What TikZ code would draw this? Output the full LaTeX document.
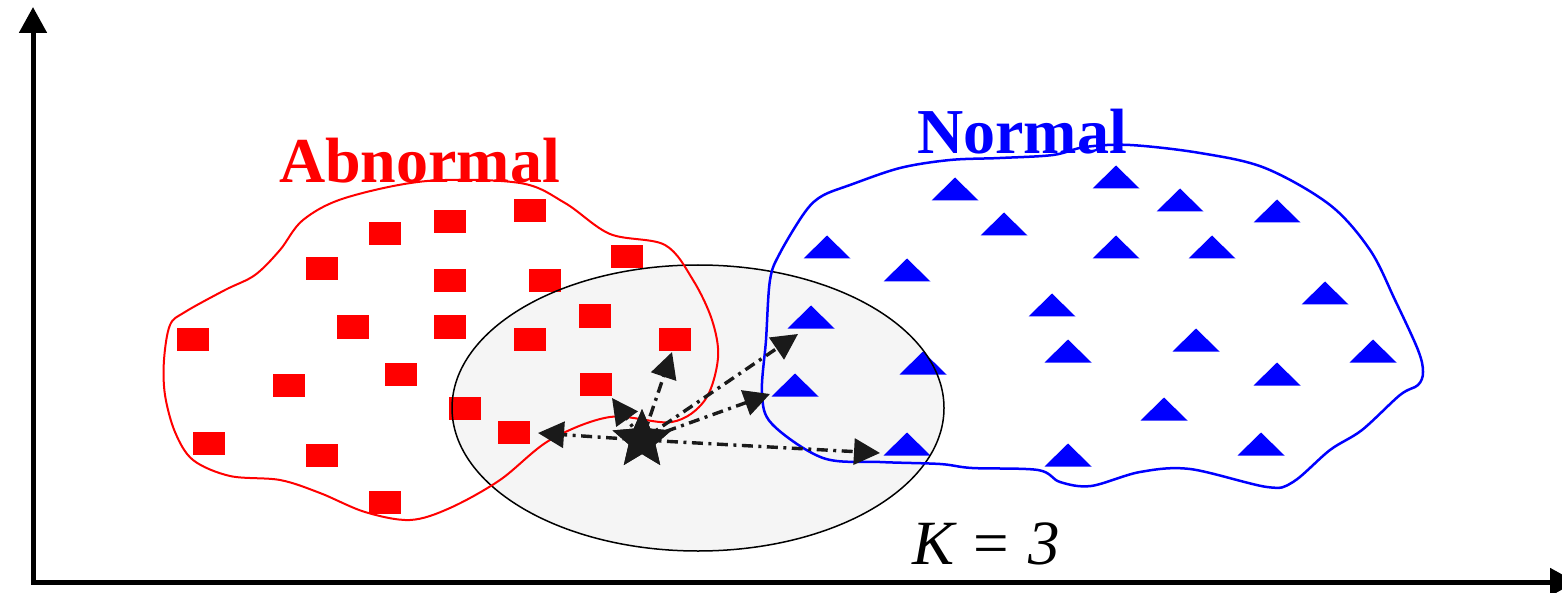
\documentclass[tikz,border=0pt]{standalone}
\usepackage{fontspec}
\setmainfont{Liberation Serif}
\usetikzlibrary{arrows.meta,shapes.geometric}
\definecolor{ellfill}{RGB}{245,245,245}
\definecolor{darkk}{RGB}{26,26,26}
\begin{document}
\begin{tikzpicture}[x=1pt,y=-1pt,
  axisline/.style={line width=5pt, black, {Triangle[length=26pt,width=27pt]}-{Triangle[length=26pt,width=27pt]}},
  redbound/.style={red, line width=2pt},
  bluebound/.style={blue, line width=2.5pt},
  knnarrow/.style={line width=3.4pt, darkk, dash pattern=on 11pt off 5.5pt on 3pt off 5.5pt, -{Triangle[length=26pt,width=26pt]}},
  querystar/.style={star, star points=5, star point ratio=2.2, fill=darkk, minimum size=62pt, inner sep=0pt},
  sqmark/.style={fill=red},
  trimark/.style={fill=blue},
  lbl/.style={anchor=base west, inner sep=0pt}]
\useasboundingbox (0,0) rectangle (1562,593);
\fill[white] (0,0) rectangle (1562,593);

% axes
\coordinate (ytop) at (33,7);
\coordinate (orig) at (33,582);
\coordinate (xend) at (1576,582);
\draw[axisline] (ytop) -- (orig) -- (xend);

% neighbourhood ellipse (fill)
\fill[ellfill] (698,408) ellipse [x radius=246, y radius=143];

% red squares
\foreach \x/\y in {193/339,289/385,209/443,322/455,385/502,322/269,353/327,401/374,450/281,450/327,
  385/234,450/222,530/211,545/281,627/257,595/316,530/339,675/339,596/384,465/408,514/432}
  \fill[sqmark] (\x-16,\y-11.5) rectangle (\x+16,\y+11.5);

% blue triangles
\foreach \x/\y in {955/189,1116/177,1180/200,1277/211,1004/224,827/247,1116/247,1212/247,907/270,
  1052/305,1325/293,811/317,1068/351,1196/340,1373/351,923/363,1277/374,795/385,1164/409,
  907/444,1068/455,1261/444}
  \fill[trimark] (\x-23.5,\y+11.5) -- (\x+23.5,\y+11.5) -- (\x,\y-11.5) -- cycle;

% ellipse outline
\draw[black, line width=1.5pt] (698,408) ellipse [x radius=246, y radius=143];

% red boundary
\draw[redbound] plot[smooth cycle, tension=0.55] coordinates {
  (303,220) (345,198) (427,181) (520,183) (565,203) (610,234) (665,245) (693,280) (712,320)
  (718,358) (705,400) (672,422) (610,417) (550,440) (500,480) (450,508) (410,520) (365,512)
  (320,493) (280,480) (230,476) (193,460) (175,432) (165,395) (164,360) (170,325) (185,312)
  (225,290) (255,275) (280,250)};

% blue boundary
\draw[bluebound] plot[smooth cycle, tension=0.55] coordinates {
  (770,280) (780,253) (805,212) (822,196) (850,185) (900,168) (950,160) (1000,158) (1053,155)
  (1085,147) (1130,145) (1200,153) (1265,168) (1330,205) (1370,250) (1395,300)
  (1418,350) (1423,372) (1418,385) (1400,395) (1362,430) (1330,450) (1293,482) (1267,487)
  (1190,469) (1140,472) (1091,486) (1060,482) (1038,470) (972,468) (940,464) (880,462)
  (823,458) (772,424) (762,393) (766,340)};

% query star and K nearest arrows
\node[querystar] (s) at (642,440) {};
\coordinate (t1) at (538,433);
\coordinate (t2) at (612,398);
\coordinate (t3) at (672,352);
\coordinate (t4) at (798,334);
\coordinate (t5) at (770,394);
\coordinate (t6) at (880,453);
\foreach \t in {t1,t2,t3,t4,t5,t6}
  \draw[knnarrow] (s.center) -- (\t);
\node[querystar] (s2) at (s.center) {};

% labels
\node[lbl, text=red, font=\fontsize{64}{64}\selectfont\bfseries] (abn) at (279,183) {Abnormal};
\node[lbl, text=blue, font=\fontsize{64}{64}\selectfont\bfseries] (nor) at (917,154) {Normal};
\node[lbl, font=\fontsize{63}{63}\selectfont\itshape] (kval) at (912,564) {K = 3};
\end{tikzpicture}
\end{document}
